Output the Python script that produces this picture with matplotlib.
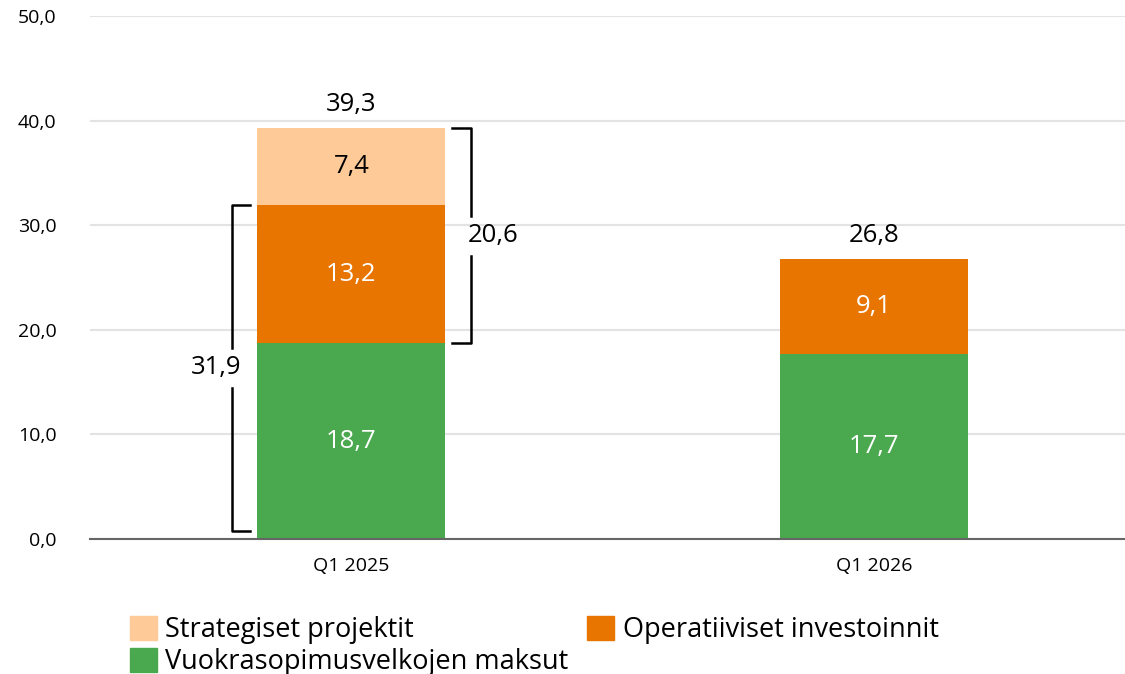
import matplotlib
matplotlib.use("Agg")
import matplotlib.pyplot as plt
from matplotlib.patches import Patch

plt.rcParams['font.family'] = ['Open Sans', 'DejaVu Sans']

categories = ["Q1 2025", "Q1 2026"]
lease = [18.7, 17.7]          # Vuokrasopimusvelkojen maksut
operative = [13.2, 9.1]       # Operatiiviset investoinnit
strategic = [7.4, 0.0]        # Strategiset projektit
totals = [39.3, 26.8]

c_light = "#FECB98"
c_orange = "#E87500"
c_green = "#4AA84E"


def fi(v):
    return f"{v:.1f}".replace(".", ",")


fig = plt.figure(figsize=(11.25, 6.74), dpi=100)
ax = fig.add_axes([0.08, 0.2003, 0.92, 0.776])

x = list(range(len(categories)))
w = 0.36
bottom_op = lease
bottom_st = [a + b for a, b in zip(lease, operative)]

ax.bar(x, lease, w, color=c_green, zorder=2)
ax.bar(x, operative, w, bottom=bottom_op, color=c_orange, zorder=2)
ax.bar(x, strategic, w, bottom=bottom_st, color=c_light, zorder=2)

fs = 18.5
# segment labels
for i in x:
    ax.text(i, lease[i] / 2, fi(lease[i]), ha="center", va="center",
            color="white", fontsize=fs)
    ax.text(i, bottom_op[i] + operative[i] / 2, fi(operative[i]),
            ha="center", va="center", color="white", fontsize=fs)
    if strategic[i] > 0:
        ax.text(i, bottom_st[i] + strategic[i] / 2, fi(strategic[i]),
                ha="center", va="center", color="black", fontsize=fs)
    ax.text(i, totals[i] + 2.2, fi(totals[i]), ha="center", va="center",
            color="black", fontsize=fs)


# brackets on the first bar
def bracket(ax, xc, side, y0, y1, label, lab_dx):
    xl = xc + side * 0.228
    xt = xc + side * 0.193
    mid = (y0 + y1) / 2
    gap = 1.9
    ax.plot([xt, xl, xl], [y1, y1, mid + gap], color="black", lw=1.8,
            solid_joinstyle="round", zorder=3, clip_on=False)
    ax.plot([xl, xl, xt], [mid - gap, y0, y0], color="black", lw=1.8,
            solid_joinstyle="round", zorder=3, clip_on=False)
    ax.text(xl + lab_dx, mid, label, ha="center", va="center", fontsize=fs)


b1_top = lease[0] + operative[0]
bracket(ax, 0, -1, 0.8, b1_top, fi(b1_top), -0.03)
b2_val = operative[0] + strategic[0]
bracket(ax, 0, 1, lease[0], totals[0], fi(b2_val), 0.044)

ax.set_xlim(-0.5, 1.48)
ax.set_ylim(0, 50)
ax.set_yticks([0, 10, 20, 30, 40, 50])
ax.set_yticklabels([fi(v) for v in [0, 10, 20, 30, 40, 50]], fontsize=14)
ax.set_xticks(x)
ax.set_xticklabels(categories, fontsize=14)
ax.tick_params(axis="both", length=0)
ax.tick_params(axis="y", pad=24)
ax.tick_params(axis="x", pad=13)
ax.yaxis.grid(True, color="#e3e3e3", lw=1.5)
ax.set_axisbelow(True)
for s in ["top", "right", "left"]:
    ax.spines[s].set_visible(False)
ax.spines["bottom"].set_color("#666666")
ax.spines["bottom"].set_linewidth(1.5)
ax.spines["bottom"].set_zorder(4)

handles = [
    Patch(color=c_light, label="Strategiset projektit"),
    Patch(color=c_green, label="Vuokrasopimusvelkojen maksut"),
    Patch(color=c_orange, label="Operatiiviset investoinnit"),
]
fig.legend(handles=handles, ncol=2, loc="upper left",
           bbox_to_anchor=(0.1155, 0.086), frameon=False, fontsize=19.5,
           handlelength=1.0, handleheight=1.0, handletextpad=0.3,
           columnspacing=0.7, labelspacing=0.12, borderaxespad=0,
           borderpad=0)

fig.savefig("out.png", dpi=100)
